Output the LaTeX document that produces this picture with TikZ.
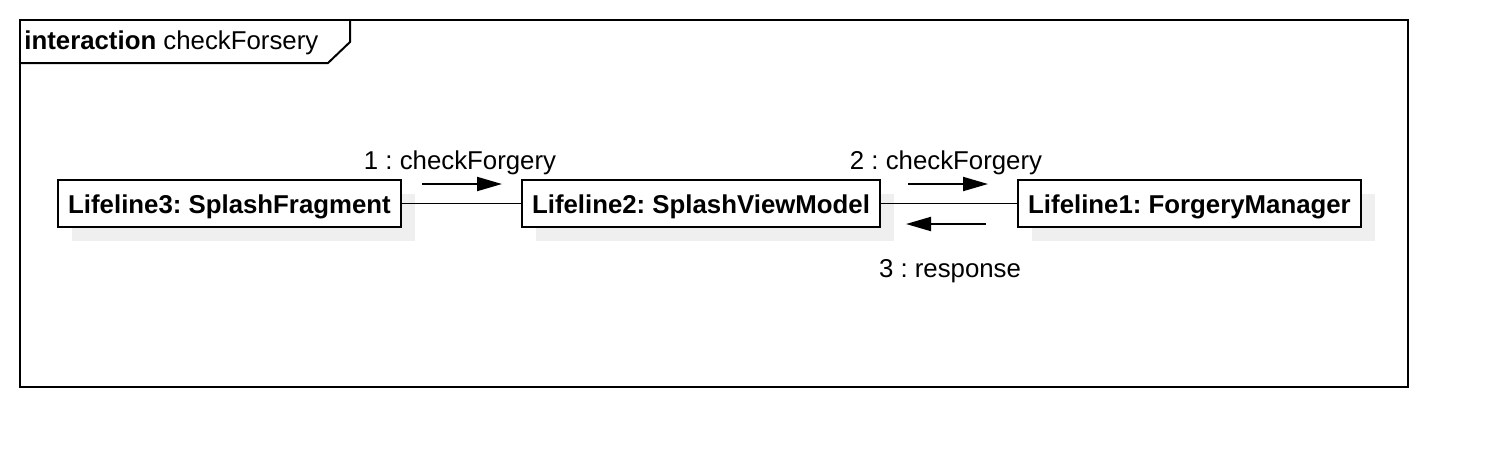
\documentclass[tikz,border=0pt]{standalone}
\usepackage{fontspec}
\setmainfont{Liberation Sans}
\usetikzlibrary{arrows.meta}
\frenchspacing
\definecolor{shadowgray}{HTML}{EFEFEF}
\tikzset{
  x=0.5pt, y=-0.5pt,
  lifeline/.style={draw=black, line width=1pt, fill=white, minimum height=23.5pt, inner sep=0pt, text depth=0pt, font=\fontsize{12.9}{15}\selectfont\bfseries},
  msg/.style={line width=1pt, -{Triangle[length=12.5pt, width=7pt]}},
  lbl/.style={font=\fontsize{12.9}{15}\selectfont, inner sep=0pt},
  conn/.style={line width=0.7pt}
}
\begin{document}
\begin{tikzpicture}
\useasboundingbox (0,0) rectangle (1488,468);
% frame
\draw[line width=1pt] (20,20) rectangle (1408,387);
\draw[line width=1pt] (20,63) -- (328,63) -- (350,42) -- (350,20);
\node[lbl, anchor=west] (title) at (24,43) {\textbf{interaction} checkForsery};
% shadows
\fill[shadowgray] (72,194) rectangle (415,241);
\fill[shadowgray] (536,194) rectangle (894,241);
\fill[shadowgray] (1032,194) rectangle (1375,241);
% lifelines
\node[lifeline, minimum width=171.5pt] (l3) at (229.5,203.5) {\raisebox{-1pt}{Lifeline3: SplashFragment}};
\node[lifeline, minimum width=179pt] (l2) at (701,203.5) {\raisebox{-1pt}{Lifeline2: SplashViewModel}};
\node[lifeline, minimum width=171.5pt] (l1) at (1189.5,203.5) {\raisebox{-1pt}{Lifeline1: ForgeryManager}};
% connectors
\draw[conn] (l3.east) -- (l2.west);
\draw[conn] (l2.east) -- (l1.west);
% messages
\coordinate (m1s) at (422,184); \coordinate (m1e) at (502,184);
\coordinate (m2s) at (908,184); \coordinate (m2e) at (988,184);
\coordinate (m3s) at (986,224); \coordinate (m3e) at (906,224);
\draw[msg] (m1s) -- (m1e);
\draw[msg] (m2s) -- (m2e);
\draw[msg] (m3s) -- (m3e);
\node[lbl] (t1) at (460,163) {1 : checkForgery};
\node[lbl] (t2) at (946,163) {2 : checkForgery};
\node[lbl] (t3) at (950,271) {3 : response};
\end{tikzpicture}
\end{document}
